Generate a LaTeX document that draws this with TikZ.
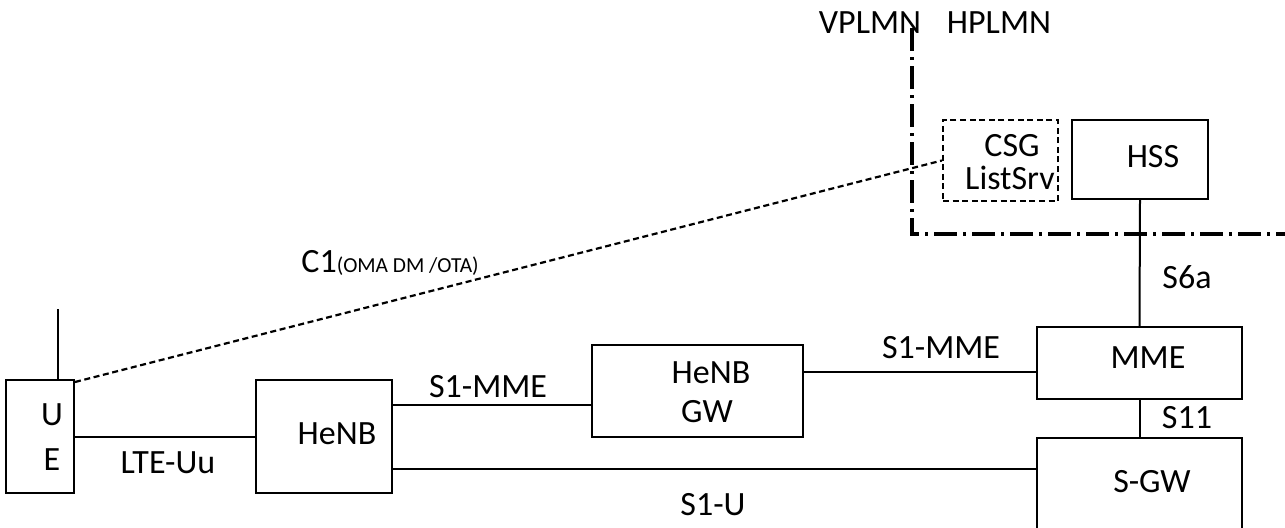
\documentclass[tikz,border=0pt]{standalone}
\usepackage{fontspec}
\setmainfont{Carlito}
\begin{document}
\begin{tikzpicture}[x=0.5pt,y=-0.5pt,
  box/.style={draw, line width=1pt, inner sep=0pt},
  dbox/.style={draw, line width=1.1pt, inner sep=0pt, dash pattern=on 3pt off 1.8pt},
  txt/.style={font=\fontsize{17}{20}\selectfont, inner sep=0pt, align=center},
  conn/.style={line width=1pt},
  dconn/.style={line width=1.1pt, dash pattern=on 3pt off 1.8pt},
  border/.style={line width=1.6pt, dash pattern=on 11.5pt off 3pt on 1.5pt off 3pt}]
\useasboundingbox (0,0) rectangle (1285,527);
\clip (0,0) rectangle (1285,527);
% boxes
\node[box, minimum width=34pt, minimum height=56.5pt] (ue) at (40,436.5) {};
\node[box, minimum width=68pt, minimum height=56.5pt] (henb) at (324,436.5) {};
\node[box, minimum width=105.5pt, minimum height=46pt] (henbgw) at (697.5,391) {};
\node[box, minimum width=102.5pt, minimum height=36pt] (mme) at (1139.5,363) {};
\node[box, minimum width=102.5pt, minimum height=53.5pt] (sgw) at (1139.5,491.5) {};
\node[box, minimum width=68pt, minimum height=39.5pt] (hss) at (1140,159.5) {};
\node[dbox, minimum width=57.5pt, minimum height=40.5pt] (csg) at (1000.5,160.5) {};
% box texts
\node[txt] (tu) at (52,415) {U};
\node[txt] (te) at (52,460) {E};
\node[txt] (thenb) at (337,434) {HeNB};
\node[txt] (tgw1) at (711,373) {HeNB};
\node[txt] (tgw2) at (707,412) {GW};
\node[txt] (tmme) at (1148,358) {MME};
\node[txt] (tsgw) at (1152,482) {S-GW};
\node[txt] (thss) at (1153,157) {HSS};
\node[txt] (tcsg1) at (1012,146) {CSG};
\node[txt] (tcsg2) at (1010,178) {ListSrv};
% connectors
\coordinate (ant) at (58,309);
\draw[conn] (ue.north -| ant) -- (ant);
\draw[conn] (ue.east) -- (henb.west);
\draw[conn] (henb.east |- 0,405) -- (henbgw.west |- 0,405);
\draw[conn] (henbgw.east |- 0,372) -- (mme.west |- 0,372);
\draw[conn] (henb.east |- 0,469) -- (sgw.west |- 0,469);
\draw[conn] (mme.south) -- (sgw.north);
\draw[conn] (hss.south) -- (mme.north);
\draw[dconn] ([yshift=-1.5pt]ue.north east) -- (csg.west);
% domain border
\coordinate (b1) at (912,28);
\coordinate (b2) at (912,234);
\coordinate (b3) at (1290,234);
\draw[border] (b1) -- (b2) -- (b3);
% labels
\node[txt] (lvp) at (870,23) {VPLMN};
\node[txt] (lhp) at (999,23) {HPLMN};
\node[txt] (llte) at (168,463) {LTE-Uu};
\node[txt] (ls1a) at (488,387) {S1-MME};
\node[txt] (ls1b) at (941,348) {S1-MME};
\node[txt] (ls1u) at (713,505) {S1-U};
\node[txt] (ls11) at (1187,418) {S11};
\node[txt] (ls6a) at (1187,277) {S6a};
\node[txt, anchor=base west] (lc1) at (301,272) {C1{\fontsize{10.7}{12}\selectfont(OMA DM /OTA)}};
\end{tikzpicture}
\end{document}
